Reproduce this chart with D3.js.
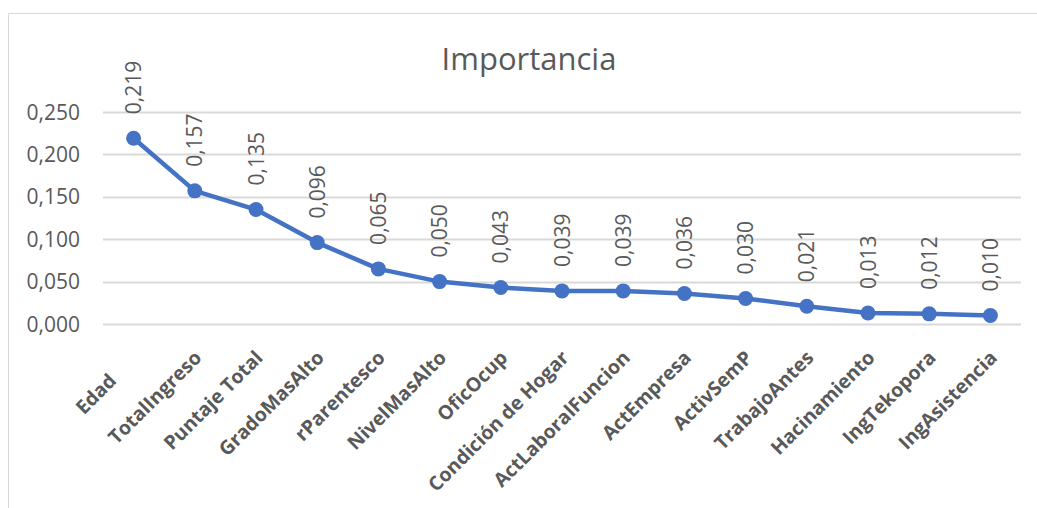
<!DOCTYPE html>
<html>
<head>
<meta charset="utf-8">
<script src="https://cdn.jsdelivr.net/npm/d3@7"></script>
<style>
  body { margin: 0; background: #fff; }
  text { font-family: "Open Sans", sans-serif; fill: #595959; }
</style>
</head>
<body>
<div id="chart"></div>
<script>
var width = 1037
var height = 508

// data
var categorias = ["Edad", "TotalIngreso", "Puntaje Total", "GradoMasAlto", "rParentesco",
    "NivelMasAlto", "OficOcup", "Condición de Hogar", "ActLaboralFuncion", "ActEmpresa",
    "ActivSemP", "TrabajoAntes", "Hacinamiento", "IngTekopora", "IngAsistencia"]
var importancia = [0.219, 0.157, 0.135, 0.096, 0.065, 0.050, 0.043, 0.039, 0.039, 0.036,
    0.030, 0.021, 0.013, 0.012, 0.010]
var yTicks = [0, 0.05, 0.10, 0.15, 0.20, 0.25]

var fmt = function(v) { return v.toFixed(3).replace('.', ','); }

var svg = d3.select("#chart")
    .append("svg")
    .attr("width", width)
    .attr("height", height);

// chart frame (only top and left edges are visible in the picture)
svg.append("path")
    .attr("d", "M8.5," + height + "V13.5H" + width)
    .attr("fill", "none")
    .attr("stroke", "#d9d9d9")
    .attr("stroke-width", 1);

svg.append("text")
    .attr("x", 529)
    .attr("y", 70)
    .attr("text-anchor", "middle")
    .attr("font-size", 31)
    .text("Importancia");

var x = d3.scaleBand()
    .domain(categorias)
    .range([103, 1021]);

var y = d3.scaleLinear()
    .domain([0, 0.25])
    .range([324, 112]);

// gridlines
svg.append("g")
    .selectAll("line")
    .data(yTicks)
    .enter()
    .append("line")
    .attr("x1", 103)
    .attr("x2", 1021)
    .attr("y1", function(d) { return Math.round(y(d)) + 0.5; })
    .attr("y2", function(d) { return Math.round(y(d)) + 0.5; })
    .attr("stroke", "#d9d9d9")
    .attr("stroke-width", 2);

// y labels
svg.append("g")
    .selectAll("text")
    .data(yTicks)
    .enter()
    .append("text")
    .attr("x", 80)
    .attr("y", function(d) { return y(d); })
    .attr("dy", "0.36em")
    .attr("text-anchor", "end")
    .attr("font-size", 21)
    .text(fmt);

// x labels, rotated
svg.append("g")
    .selectAll("text")
    .data(categorias)
    .enter()
    .append("text")
    .attr("transform", function(d, i) {
        var cx = x(d) + x.bandwidth() / 2 + 8;
        // first label sits further left in the original
        if (i == 0) cx -= 24;
        return "translate(" + cx + "," + (i == 0 ? 382 : 359) + ") rotate(-45)";
    })
    .attr("text-anchor", "end")
    .attr("font-size", 19.5)
    .attr("font-weight", "bold")
    .text(function(d) { return d; });

var cxOf = function(d, i) { return x(categorias[i]) + x.bandwidth() / 2; };

var line = d3.line()
    .x(function(d, i) { return cxOf(d, i); })
    .y(function(d) { return y(d); });

svg.append("path")
    .datum(importancia)
    .attr("d", line)
    .attr("fill", "none")
    .attr("stroke", "#4472C4")
    .attr("stroke-width", 4.5)
    .attr("stroke-linejoin", "round");

svg.append("g")
    .selectAll("circle")
    .data(importancia)
    .enter()
    .append("circle")
    .attr("cx", cxOf)
    .attr("cy", function(d) { return y(d); })
    .attr("r", 7.5)
    .attr("fill", "#4472C4");

// data labels, vertical
svg.append("g")
    .selectAll("text")
    .data(importancia)
    .enter()
    .append("text")
    .attr("transform", function(d, i) {
        return "translate(" + cxOf(d, i) + "," + (y(d) - 24) + ") rotate(-90)";
    })
    .attr("dy", "0.36em")
    .attr("font-size", 21)
    .text(fmt);
</script>
</body>
</html>
